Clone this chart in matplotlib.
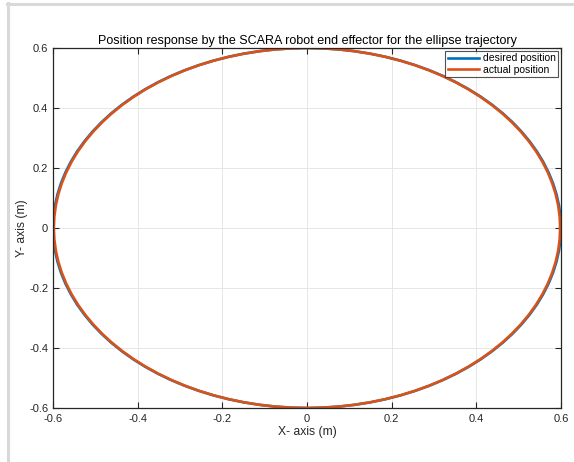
import numpy as np
import matplotlib
matplotlib.use("Agg")
import matplotlib.pyplot as plt
from matplotlib.lines import Line2D

plt.rcParams['font.family'] = ['Liberation Sans', 'DejaVu Sans']

# Ellipse trajectory parameters (centre and semi-axes, metres)
desired_center = (0.0, 0.0)
desired_axes = (0.6, 0.6)
actual_center = (0.0, 0.0)
actual_axes = (0.598, 0.6)
n_samples = 100

x_ticks = [-0.6, -0.4, -0.2, 0, 0.2, 0.4, 0.6]
y_ticks = [-0.6, -0.4, -0.2, 0, 0.2, 0.4, 0.6]
x_tick_labels = ['-0.6', '-0.4', '-0.2', '0', '0.2', '0.4', '0.6']
y_tick_labels = ['-0.6', '-0.4', '-0.2', '0', '0.2', '0.4', '0.6']

theta = np.linspace(0, 2 * np.pi, n_samples + 1)
x_des = desired_center[0] + desired_axes[0] * np.cos(theta)
y_des = desired_center[1] + desired_axes[1] * np.sin(theta)
x_act = actual_center[0] + actual_axes[0] * np.cos(theta)
y_act = actual_center[1] + actual_axes[1] * np.sin(theta)

blue = (0.0, 0.447, 0.741)
orange = (0.85, 0.325, 0.098)

fig = plt.figure(figsize=(5.74, 4.62), dpi=100)
# window frame lines on top and left
fig.add_artist(Line2D([7.5 / 574, 7.5 / 574], [0, 1 - 3 / 462], color='#d9d9d9', lw=2.2,
                      transform=fig.transFigure))
fig.add_artist(Line2D([6.5 / 574, 1], [1 - 4 / 462, 1 - 4 / 462], color='#d9d9d9', lw=2.2,
                      transform=fig.transFigure))

ax = fig.add_axes([53 / 574, 1 - 408 / 462, (561 - 53) / 574, (408 - 48) / 462])
ax.plot(x_des, y_des, color=blue, lw=1.9, label='desired position')
ax.plot(x_act, y_act, color=orange, lw=1.9, label='actual position')

ax.set_xlim(-0.6, 0.6)
ax.set_ylim(-0.6, 0.6)
ax.set_xticks(x_ticks)
ax.set_xticklabels(x_tick_labels)
ax.set_yticks(y_ticks)
ax.set_yticklabels(y_tick_labels)
ax.tick_params(direction='in', length=4, width=0.8, labelsize=8, colors='#262626',
               top=True, right=True)
ax.tick_params(axis='x', pad=4)
ax.grid(True, color='#e6e6e6', lw=0.7)
ax.set_axisbelow(True)
for s in ax.spines.values():
    s.set_color('#262626')
    s.set_linewidth(0.9)

ax.set_title('Position response by the SCARA robot end effector for the ellipse trajectory',
             fontsize=9, color='black', pad=3)
ax.set_xlabel('X- axis (m)', fontsize=8.7, color='#262626', labelpad=2)
ax.set_ylabel('Y- axis (m)', fontsize=8.7, color='#262626', labelpad=1)

leg = ax.legend(loc='upper right', fontsize=7.5, frameon=True, fancybox=False,
                borderpad=0.25, handlelength=3.0, handletextpad=0.4, labelspacing=0.15,
                borderaxespad=0.25, edgecolor='#262626')
leg.get_frame().set_linewidth(0.8)

fig.savefig('out.png', dpi=100)
